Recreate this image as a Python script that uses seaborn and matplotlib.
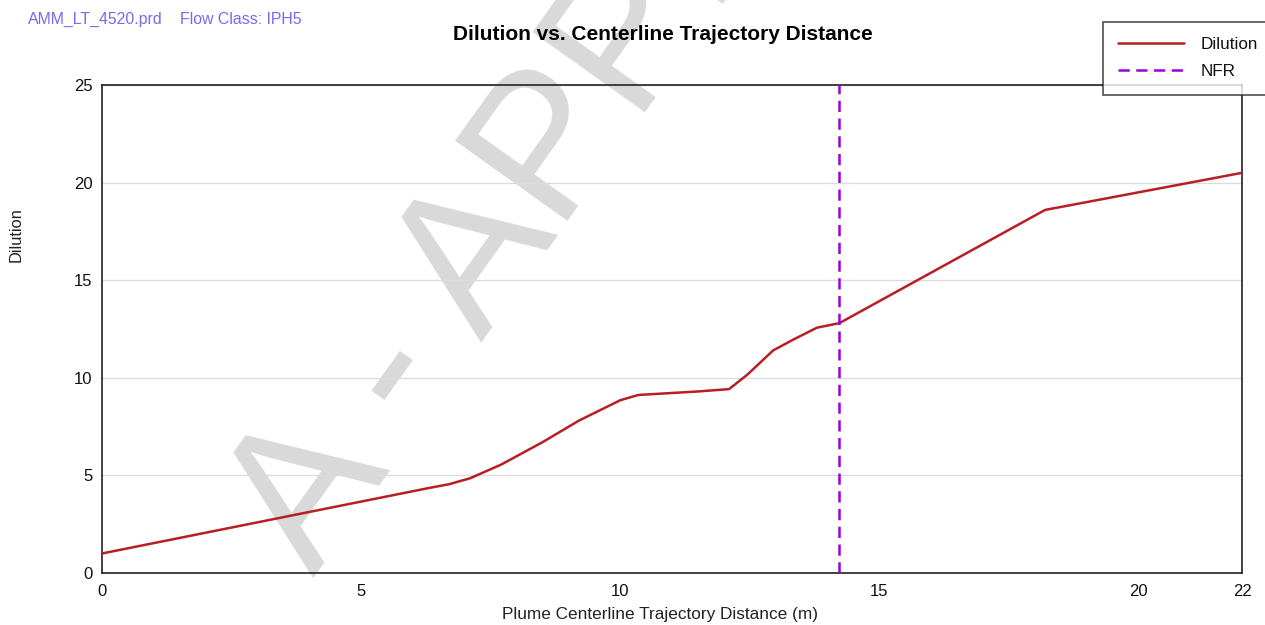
import matplotlib
matplotlib.use("Agg")
import matplotlib.pyplot as plt
import seaborn as sns
import pandas as pd

# Plume centerline trajectory distance (m) and centerline dilution
distance = [0.0, 6.3, 6.7, 7.1, 7.7, 8.5, 9.2, 10.0, 10.35, 11.5, 12.1,
            12.45, 12.95, 13.35, 13.8, 14.23, 18.2, 22.0]
dilution = [1.0, 4.35, 4.55, 4.85, 5.55, 6.7, 7.8, 8.85, 9.12, 9.3, 9.42,
            10.15, 11.4, 11.97, 12.57, 12.8, 18.6, 20.5]

# End of near-field region
nfr_distance = 14.22

x_ticks = [0, 5, 10, 15, 20, 22]
y_ticks = [0, 5, 10, 15, 20, 25]

title = "Dilution vs. Centerline Trajectory Distance"
file_name = "AMM_LT_4520.prd"
flow_class = "Flow Class: IPH5"
x_label = "Plume Centerline Trajectory Distance (m)"
y_label = "Dilution"
stamp = "A - APPROVED"

sns.set_style("white")
plt.rcParams["font.family"] = ["Liberation Sans", "DejaVu Sans"]

df = pd.DataFrame({"Distance": distance, "Dilution": dilution})

fig = plt.figure(figsize=(12.65, 6.25), dpi=100, facecolor="white")
ax = fig.add_axes([102 / 1265, 52 / 625, 1140 / 1265, 488 / 625])
ax.set_facecolor("none")

# Background stamp, drawn beneath the axes
fig.text(313 / 1265, 1 - 578 / 625, stamp, fontsize=144, color="#d9d9d9",
         rotation=54.5, rotation_mode="anchor", ha="left", va="baseline",
         zorder=-5)

ax.grid(axis="y", color="#dcdcdc", linewidth=1.0, zorder=0)
ax.grid(axis="x", visible=False)

sns.lineplot(data=df, x="Distance", y="Dilution", ax=ax, color="#b81e26",
             linewidth=1.8, label="Dilution", sort=False, zorder=3)
ax.axvline(nfr_distance, color="#9b00d8", linewidth=1.8,
           linestyle=(0, (4.5, 2.6)), label="NFR", zorder=3)

ax.set_xlim(0, 22)
ax.set_ylim(0, 25)
ax.set_xticks(x_ticks)
ax.set_yticks(y_ticks)
ax.tick_params(axis="both", direction="inout", length=6, width=1,
               color="#222222", labelsize=12, labelcolor="#111111")
ax.tick_params(axis="x", pad=5)
ax.tick_params(axis="y", pad=4)

for side in ["left", "bottom", "top", "right"]:
    ax.spines[side].set_visible(True)
    ax.spines[side].set_color("#222222")
    ax.spines[side].set_linewidth(1.2)

ax.set_xlabel("")
ax.set_ylabel("")
fig.text(660 / 1265, 1 - 615 / 625, x_label, fontsize=12.4,
         color="#222222", ha="center", va="center")
fig.text(16 / 1265, 1 - 235 / 625, y_label, rotation=90, fontsize=11.8,
         color="#222222", ha="center", va="center")

fig.text(663 / 1265, 1 - 34 / 625, title, fontsize=15, fontweight="bold",
         color="black", ha="center", va="center")
fig.text(28 / 1265, 1 - 19 / 625, file_name, fontsize=11.4, color="#7b68ee",
         ha="left", va="center")
fig.text(180 / 1265, 1 - 19 / 625, flow_class, fontsize=11.4, color="#7b68ee",
         ha="left", va="center")

# Legend box runs past the right edge of the figure
leg_left, leg_top, leg_bottom = 1103 / 1265, 1 - 22 / 625, 1 - 93 / 625
leg = ax.legend(loc="upper left",
                bbox_to_anchor=(leg_left, leg_bottom, 190 / 1265,
                                leg_top - leg_bottom),
                bbox_transform=fig.transFigure, mode="expand",
                frameon=True, fancybox=False,
                fontsize=12.3, handlelength=3.86, handletextpad=0.94,
                borderpad=0.9, labelspacing=0.7, borderaxespad=0)
leg.get_frame().set_edgecolor("#222222")
leg.get_frame().set_linewidth(1.2)
for t in leg.get_texts():
    t.set_color("#111111")

fig.savefig("out.png", dpi=100, facecolor="white")
